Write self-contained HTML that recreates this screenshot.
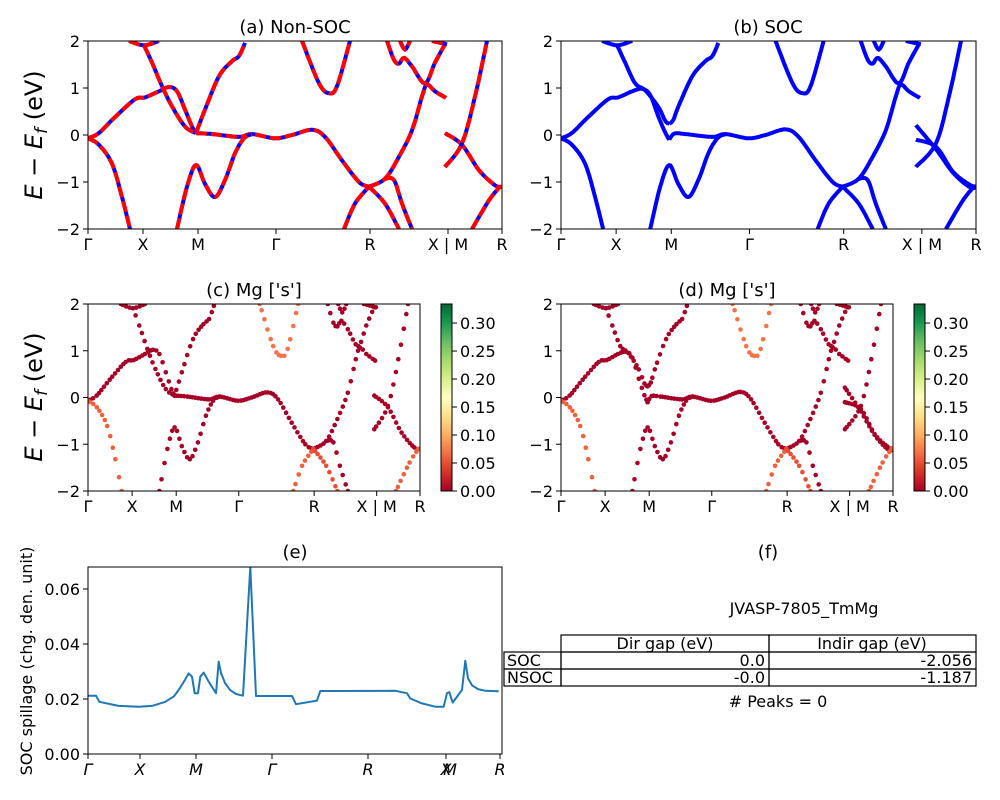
<!DOCTYPE html>
<html><head><meta charset="utf-8">
<style>
html,body{margin:0;padding:0;background:#fff;}
svg{display:block;font-family:"DejaVu Sans","Liberation Sans",sans-serif;}
</style></head>
<body>
<svg id="fig" width="1000" height="800" viewBox="0 0 1000 800" xmlns="http://www.w3.org/2000/svg">
<defs>
<linearGradient id="rdylgn" x1="0" y1="1" x2="0" y2="0">
<stop offset="0" stop-color="#a50026"/><stop offset="0.1" stop-color="#d73027"/><stop offset="0.2" stop-color="#f46d43"/><stop offset="0.3" stop-color="#fdae61"/><stop offset="0.4" stop-color="#fee08b"/><stop offset="0.5" stop-color="#ffffbf"/><stop offset="0.6" stop-color="#d9ef8b"/><stop offset="0.7" stop-color="#a6d96a"/><stop offset="0.8" stop-color="#66bd63"/><stop offset="0.9" stop-color="#1a9850"/><stop offset="1" stop-color="#006837"/>
</linearGradient>
</defs>
<g id="root"></g>
</svg>
<script>
// ---- Band structure data (k in path units 0..414, E in eV) ----
const kTickPos = [0, 55, 110, 188, 282, 360, 414];
const kTickLabels = ["Γ", "X", "M", "Γ", "R", "X | M", "R"];
const eTicks = [-2, -1, 0, 1, 2];

const band1 = {k:[0,10.7,27,47,57,71,81,89,97,104,108], e:[-0.07,0.04,0.38,0.76,0.8,0.93,1.02,0.93,0.54,0.18,0.04], w:0};
const band2 = {k:[108,124,151,164,187,204,224,237,254,271,281], e:[0.04,0.02,-0.04,0.02,-0.07,0,0.11,-0.04,-0.54,-1.0,-1.1], w:0};
const band3 = {k:[281,297,311,324,334,339,347,358], e:[-1.1,-0.93,-0.46,0.1,0.82,1.07,0.93,0.79], w:0};
const band4a = {k:[299,306,311,316,324,337,347,357], e:[2.0,1.6,1.52,1.64,1.46,1.1,1.54,1.93], w:0};
const band4b = {k:[312,317,322], e:[2.0,1.82,2.0], w:0};
const band4c = {k:[344,359], e:[2.0,1.93], w:0};
const band5 = {k:[256,267,281], e:[-2.0,-1.46,-1.1], w:0.06};
const band6 = {k:[281,297,311], e:[-1.1,-1.46,-2.0], w:0.05};
const band7 = {k:[297,306,314,324], e:[-0.93,-0.96,-1.46,-2.0], w:0};
const band8 = {k:[0,11,24,34,42], e:[-0.07,-0.21,-0.61,-1.32,-2.0], w:0.06};
const band9 = {k:[89,99,108,117,127,137,147,156,164], e:[-2.0,-1.1,-0.64,-1.04,-1.32,-0.96,-0.39,-0.07,0.02], w:0};
const band10a = {k:[41,56,71], e:[2.0,1.91,2.0], w:0};
const band10 = {k:[56,64,74,84,97,108], e:[1.91,1.54,1.04,0.61,0.18,0.04], w:0};
const band11 = {k:[108,117,131,144,151,157], e:[0.04,0.54,1.25,1.57,1.68,1.96], w:0};
const band12 = {k:[214,231,241,249,262], e:[2.0,1.1,0.89,1.04,2.0], w:0.07};
const band13 = {k:[357,374,391,407,414], e:[0.04,-0.21,-0.75,-1.07,-1.1], w:0};
const band14 = {k:[357,374,387,399], e:[-0.68,-0.18,0.82,2.0], w:0};
const band15 = {k:[384,401,412], e:[-2.0,-1.39,-1.1], w:0.06};

// SOC-specific bands
const soc1 = {k:[0,10.7,27,47,57,71,81,89,97,104,108], e:[-0.07,0.04,0.38,0.76,0.8,0.93,0.98,0.85,0.4,0.05,-0.1], w:0};
const soc2 = {k:[108,113,124,151,164,187,204,224,237,254,271,281], e:[-0.1,0.03,0.02,-0.04,0.02,-0.07,0,0.12,-0.04,-0.54,-1.0,-1.1], w:0};
const soc10 = {k:[56,64,74,84,97,104,108], e:[1.91,1.54,1.1,0.95,0.6,0.3,0.24], w:0};
const soc11 = {k:[108,112,117,131,144,151,157], e:[0.24,0.32,0.6,1.25,1.57,1.68,1.96], w:0};
const soc13 = {k:[354,374,391,407,414], e:[0.21,-0.3,-0.8,-1.1,-1.12], w:0};
const soc13b = {k:[354,374,391,407,414], e:[-0.1,-0.25,-0.78,-1.05,-1.1], w:0};
const soc14 = {k:[354,374,387,399], e:[-0.68,-0.18,0.82,2.0], w:0};

const nonSocBands = [band1,band2,band3,band4a,band4b,band4c,band5,band6,band7,band8,band9,band10a,band10,band11,band12,band13,band14,band15];
const socBands = [soc1,soc2,band3,band4a,band4b,band4c,band5,band6,band7,band8,band9,band10a,soc10,soc11,band12,soc13,soc13b,soc14,band15];

const cbTicks = [0,0.05,0.10,0.15,0.20,0.25,0.30];
const cbTickLabels = ["0.00","0.05","0.10","0.15","0.20","0.25","0.30"];
const cbMax = 0.334;

// ---- Spillage data (panel e) ----
const spillK = [0,8,11.3,30.7,50.7,64,77.3,86,92,97,100.7,104,106.7,110,112.3,115.7,120.7,128,130.7,133,137,142,148,155,162.3,168,204,208,229,232.3,244,307.3,319,322.3,334,347.3,355.7,359,361.3,364.7,374,377.3,380,384,390,397.3,410.7];
const spillV = [0.0212,0.0212,0.0190,0.0175,0.0172,0.0175,0.0190,0.0210,0.0240,0.0270,0.0293,0.0281,0.0221,0.0221,0.0281,0.0296,0.0263,0.0221,0.0336,0.0295,0.0258,0.0233,0.0218,0.0212,0.0681,0.0211,0.0211,0.0181,0.0194,0.0229,0.0229,0.0230,0.0221,0.0202,0.0184,0.0172,0.0172,0.0221,0.0225,0.0187,0.0233,0.0339,0.0275,0.0250,0.0236,0.0230,0.0228];
const spillTicks = [0,0.02,0.04,0.06];
const spillTickLabels = ["0.00","0.02","0.04","0.06"];
const spillXTickPos = [0, 52, 108, 184, 280, 358, 412];
const spillXTickLabels = ["Γ","X","M","Γ","R","X","R"];

// ---- Table data ----
const tableCols = ["Dir gap (eV)","Indir gap (eV)"];
const tableRows = ["SOC","NSOC"];
const dirGap = ["0.0","-0.0"];
const indirGap = ["-2.056","-1.187"];

const NS="http://www.w3.org/2000/svg";
const root=document.getElementById('root');
function el(tag,attrs,parent){const e=document.createElementNS(NS,tag);for(const a in attrs)e.setAttribute(a,attrs[a]);(parent||root).appendChild(e);return e;}
function txt(s,attrs,parent){const t=el('text',attrs,parent);t.textContent=s;return t;}

function catmull(k,e,steps){
  const pts=[];const n=k.length;
  if(n===2){const m=Math.max(2,Math.round((k[1]-k[0])/steps));for(let i=0;i<=m;i++){const t=i/m;pts.push([k[0]+(k[1]-k[0])*t,e[0]+(e[1]-e[0])*t]);}return pts;}
  for(let i=0;i<n-1;i++){
    const p0=[k[Math.max(i-1,0)],e[Math.max(i-1,0)]],p1=[k[i],e[i]],p2=[k[i+1],e[i+1]],p3=[k[Math.min(i+2,n-1)],e[Math.min(i+2,n-1)]];
    const seg=Math.max(2,Math.round((p2[0]-p1[0])/steps));
    for(let j=(i===0?0:1);j<=seg;j++){const t=j/seg,t2=t*t,t3=t2*t;
      const f=(a,b,c,d)=>0.5*((2*b)+(-a+c)*t+(2*a-5*b+4*c-d)*t2+(-a+3*b-3*c+d)*t3);
      pts.push([f(p0[0],p1[0],p2[0],p3[0]),f(p0[1],p1[1],p2[1],p3[1])]);}
  }
  return pts;
}
const cmapStops=[[165,0,38],[215,48,39],[244,109,67],[253,174,97],[254,224,139],[255,255,191],[217,239,139],[166,217,106],[102,189,99],[26,152,80],[0,104,55]];
function cmap(v){let x=Math.max(0,Math.min(1,v/cbMax))*10;const i=Math.min(9,Math.floor(x)),f=x-i;const a=cmapStops[i],b=cmapStops[i+1];return 'rgb('+a.map((c,j)=>Math.round(c+(b[j]-c)*f)).join(',')+')';}

function bandAxes(name,x0,y0,w,h,title,tx){
  const g=el('g',{});
  
  
  const sx=k=>x0+k*w/414, sy=E=>y0+(2-E)/4*h;
  const cid='clip-'+name;
  const cp=el('clipPath',{id:cid},g);el('rect',{x:x0,y:y0,width:w,height:h},cp);
  const plot=el('g',{'clip-path':'url(#'+cid+')'},g);
  
  
  kTickPos.forEach((k,i)=>{const x=sx(k);el('line',{x1:x,y1:y0+h,x2:x,y2:y0+h+5,stroke:'#000','stroke-width':1},g);
    const t=txt(kTickLabels[i],{x:x,y:y0+h+21,'font-size':16,'text-anchor':'middle'},g);
    
    });
  eTicks.forEach(E=>{const y=sy(E);el('line',{x1:x0-5,y1:y,x2:x0,y2:y,stroke:'#000','stroke-width':1},g);
    const t=txt(E<0?'−'+(-E):String(E),{x:x0-8,y:y+6,'font-size':16,'text-anchor':'end'},g);
    
    });
  const tt=txt(title,{x:tx,y:y0-8,'font-size':18,'text-anchor':'middle'},g);
  
  
  return {g,plot,sx,sy,x0,y0,w,h};
}
function frame(ax){el('rect',{x:ax.x0,y:ax.y0,width:ax.w,height:ax.h,fill:'none',stroke:'#000','stroke-width':1},ax.g);}
function pathD(pts,sx,sy){return pts.map((p,i)=>(i?'L':'M')+sx(p[0]).toFixed(1)+','+sy(p[1]).toFixed(1)).join('');}

function ylabel(x,y){
  const t=el('text',{x:x,y:y,'font-size':24,'text-anchor':'middle',transform:'rotate(-90 '+x+' '+y+')'});
  
  
  t.innerHTML='<tspan font-style="italic">E</tspan> − <tspan font-style="italic">E</tspan><tspan font-style="italic" font-size="17" dy="5">f</tspan><tspan dy="-5"> (eV)</tspan>';
}

const axA=bandAxes('panel-a-non-soc',88,41,414,188,'(a) Non-SOC',295);
nonSocBands.forEach(b=>{const d=pathD(catmull(b.k,b.e,1),axA.sx,axA.sy);
  const p1=el('path',{d:d,fill:'none',stroke:'#0000ff','stroke-width':4},axA.plot);
  
  
  const p2=el('path',{d:d,fill:'none',stroke:'#ff0000','stroke-width':4,'stroke-dasharray':'11,4'},axA.plot);
  
  });
frame(axA);
const axB=bandAxes('panel-b-soc',561,41,415,188,'(b) SOC',768);
socBands.forEach(b=>{const p=el('path',{d:pathD(catmull(b.k,b.e,1),axB.sx,axB.sy),fill:'none',stroke:'#0000ff','stroke-width':4},axB.plot);
  
  });
frame(axB);

function scatterPanel(name,x0,title,tx,bands,cbx){
  const ax=bandAxes(name,x0,304,332,187,title,tx);
  bands.forEach(b=>{catmull(b.k,b.e,3.4).forEach(p=>{
    const c=el('circle',{cx:ax.sx(p[0]).toFixed(1),cy:ax.sy(p[1]).toFixed(1),r:2.3,fill:cmap(b.w)},ax.plot);
    
    });});
  frame(ax);
  const cb=el('g',{});
  
  
  el('rect',{x:cbx,y:304,width:11,height:187,fill:'url(#rdylgn)',stroke:'#000','stroke-width':1},cb);
  cbTicks.forEach((v,i)=>{const y=491-v/cbMax*187;el('line',{x1:cbx+11,y1:y,x2:cbx+16,y2:y,stroke:'#000'},cb);
    const t=txt(cbTickLabels[i],{x:cbx+19,y:y+6,'font-size':16},cb);
    
    });
}
scatterPanel('panel-c-mg-s',88,"(c)  Mg ['s']",254,nonSocBands,441);
scatterPanel('panel-d-mg-s',561,"(d) Mg ['s']",727,socBands,914);

ylabel(42,135);
ylabel(42,397);

(function(){
  const x0=88,y0=567,w=414,h=187,vmax=0.068;
  const g=el('g',{});
  
  
  const sx=k=>x0+k*w/414, sy=v=>y0+h-v/vmax*h;
  const cp=el('clipPath',{id:'clip-e'},g);el('rect',{x:x0,y:y0,width:w,height:h},cp);
  const d=spillK.map((k,i)=>(i?'L':'M')+sx(k).toFixed(1)+','+sy(spillV[i]).toFixed(1)).join('');
  const line=el('path',{d:d,fill:'none',stroke:'#1f77b4','stroke-width':2,'stroke-linejoin':'round','clip-path':'url(#clip-e)'},g);
  
  
  el('rect',{x:x0,y:y0,width:w,height:h,fill:'none',stroke:'#000'},g);
  spillTicks.forEach((v,i)=>{const y=sy(v);el('line',{x1:x0-5,y1:y,x2:x0,y2:y,stroke:'#000'},g);
    const t=txt(spillTickLabels[i],{x:x0-8,y:y+6,'font-size':16,'text-anchor':'end'},g);
    
    });
  spillXTickPos.forEach((k,i)=>{const x=sx(k);el('line',{x1:x,y1:y0+h,x2:x,y2:y0+h+5,stroke:'#000'},g);
    const t=txt(spillXTickLabels[i],{x:x,y:y0+h+21,'font-size':16,'text-anchor':'middle','font-style':'italic'},g);
    
    });
  const m=txt('M',{x:sx(362),y:y0+h+21,'font-size':16,'text-anchor':'middle','font-style':'italic'},g);
  
  
  const tt=txt('(e)',{x:295,y:558,'font-size':18,'text-anchor':'middle'},g);
  
  
  const yl=txt('SOC spillage (chg. den. unit)',{x:32,y:661,'font-size':16,'text-anchor':'middle',transform:'rotate(-90 32 661)'},g);
  
  
})();

(function(){
  const g=el('g',{});
  
  
  const t1=txt('(f)',{x:768,y:558,'font-size':18,'text-anchor':'middle'},g);
  
  
  const t2=txt('JVASP-7805_TmMg',{x:804,y:614,'font-size':16,'text-anchor':'middle'},g);
  
  
  const s={fill:'none',stroke:'#000','stroke-width':1.2};
  el('rect',Object.assign({x:561,y:635,width:208,height:17},s),g);
  el('rect',Object.assign({x:769,y:635,width:207,height:17},s),g);
  tableCols.forEach((c,i)=>{const t=txt(c,{x:i?872:665,y:649,'font-size':16,'text-anchor':'middle'},g);
    
    });
  tableRows.forEach((r,i)=>{const y=652+i*17;
    el('rect',Object.assign({x:504,y:y,width:57,height:17},s),g);
    el('rect',Object.assign({x:561,y:y,width:208,height:17},s),g);
    el('rect',Object.assign({x:769,y:y,width:207,height:17},s),g);
    const a=txt(r,{x:507,y:y+14,'font-size':16},g);
    
    
    const b=txt(dirGap[i],{x:765,y:y+14,'font-size':16,'text-anchor':'end'},g);
    
    
    const c=txt(indirGap[i],{x:972,y:y+14,'font-size':16,'text-anchor':'end'},g);
    
    });
  const p=txt('# Peaks = 0',{x:778,y:707,'font-size':16,'text-anchor':'middle'},g);
  
  
})();
</script>
</body></html>
